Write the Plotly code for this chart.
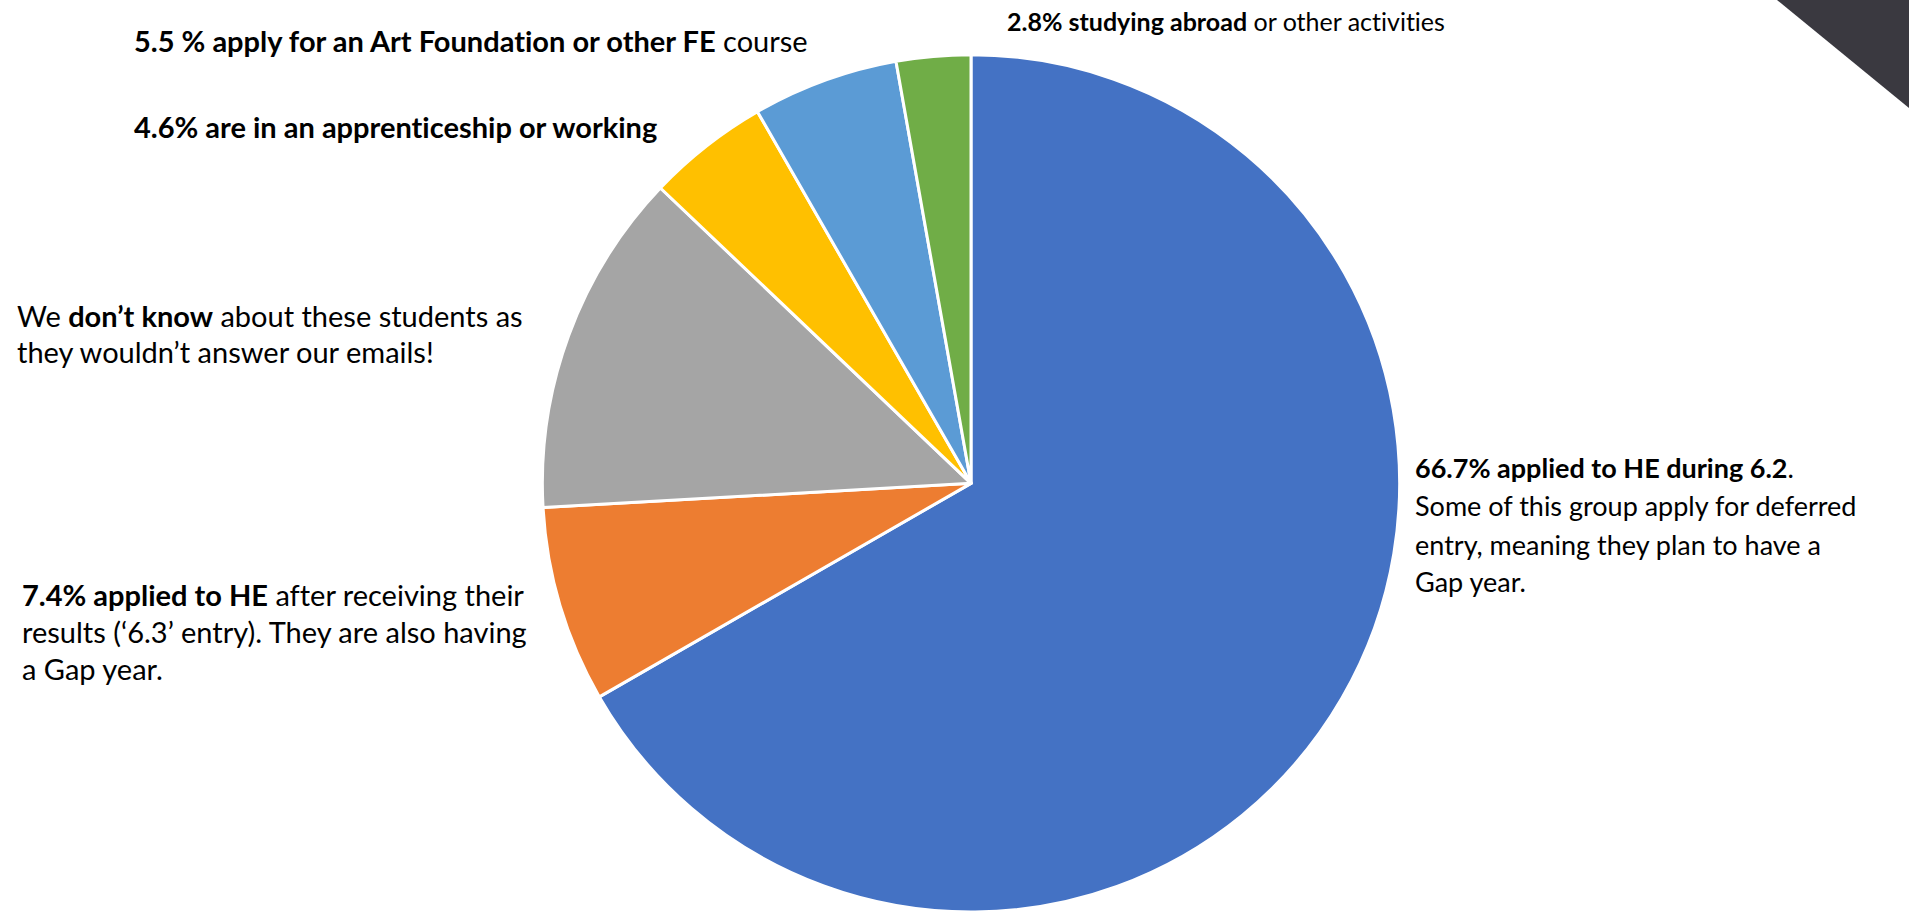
import plotly.graph_objects as go

# ---- data ----
labels = [
    "Applied to HE during 6.2",
    "Applied to HE after results (6.3)",
    "Don't know",
    "Apprenticeship or working",
    "Art Foundation or other FE course",
    "Studying abroad or other activities",
]
values = [66.7, 7.4, 13.0, 4.6, 5.5, 2.8]
colors = ["#4472C4", "#ED7D31", "#A5A5A5", "#FFC000", "#5B9BD5", "#70AD47"]

# text lines: (text, left x px, centre y px, font size)
note_lines = [
    ("<b>2.8% studying abroad</b> or other activities", 1007, 21, 25),
    ("<b>5.5 % apply for an Art Foundation or other FE</b> course", 134, 40, 29),
    ("<b>4.6% are in an apprenticeship or working</b>", 134, 127, 29),
    ("We <b>don’t know</b> about these students as", 17, 315, 29),
    ("they wouldn’t answer our emails!", 17, 351, 29),
    ("<b>7.4% applied to HE</b> after receiving their", 22, 594, 29),
    ("results (‘6.3’ entry). They are also having", 22, 631, 29),
    ("a Gap year.", 22, 668, 29),
    ("<b>66.7% applied to HE during 6.2</b>.", 1415, 467, 27),
    ("Some of this group apply for deferred", 1415, 505, 27),
    ("entry, meaning they plan to have a", 1415, 544, 27),
    ("Gap year.", 1415, 581, 27),
]

W, H = 1909, 912
FONT = "Lato"

fig = go.Figure(
    go.Pie(
        labels=labels,
        values=values,
        sort=False,
        direction="clockwise",
        rotation=0,
        marker=dict(colors=colors, line=dict(color="white", width=3)),
        textinfo="none",
        hoverinfo="label+percent",
        domain=dict(x=[(971 - 430) / W, (971 + 430) / W], y=[0, 0.94]),
        showlegend=False,
    )
)

for t, xp, yp, fs in note_lines:
    fig.add_annotation(
        text=t,
        x=(xp - 2) / W,
        y=1 - yp / H,
        xref="paper",
        yref="paper",
        xanchor="left",
        yanchor="middle",
        align="left",
        showarrow=False,
        font=dict(family=FONT, size=fs, color="black"),
    )

# slide decoration (top-right dark triangle)
fig.add_shape(
    type="path",
    xref="paper",
    yref="paper",
    path=f"M {1777/W} 1 L 1 1 L 1 {1 - 108/H} Z",
    fillcolor="rgb(58,57,64)",
    line=dict(width=0),
    layer="above",
)

fig.update_layout(
    width=W,
    height=H,
    margin=dict(l=0, r=0, t=0, b=0),
    paper_bgcolor="white",
    plot_bgcolor="white",
    font=dict(family=FONT),
)

fig.write_html(
    "out.html",
    config={"displayModeBar": False},
    post_script=(
        "document.body.style.margin='0';"
        "document.body.style.overflow='hidden';"
        "document.head.insertAdjacentHTML('beforeend',"
        "'<style>text{font-variant-ligatures:none;font-feature-settings:\"liga\" 0;}</style>');"
    ),
)
